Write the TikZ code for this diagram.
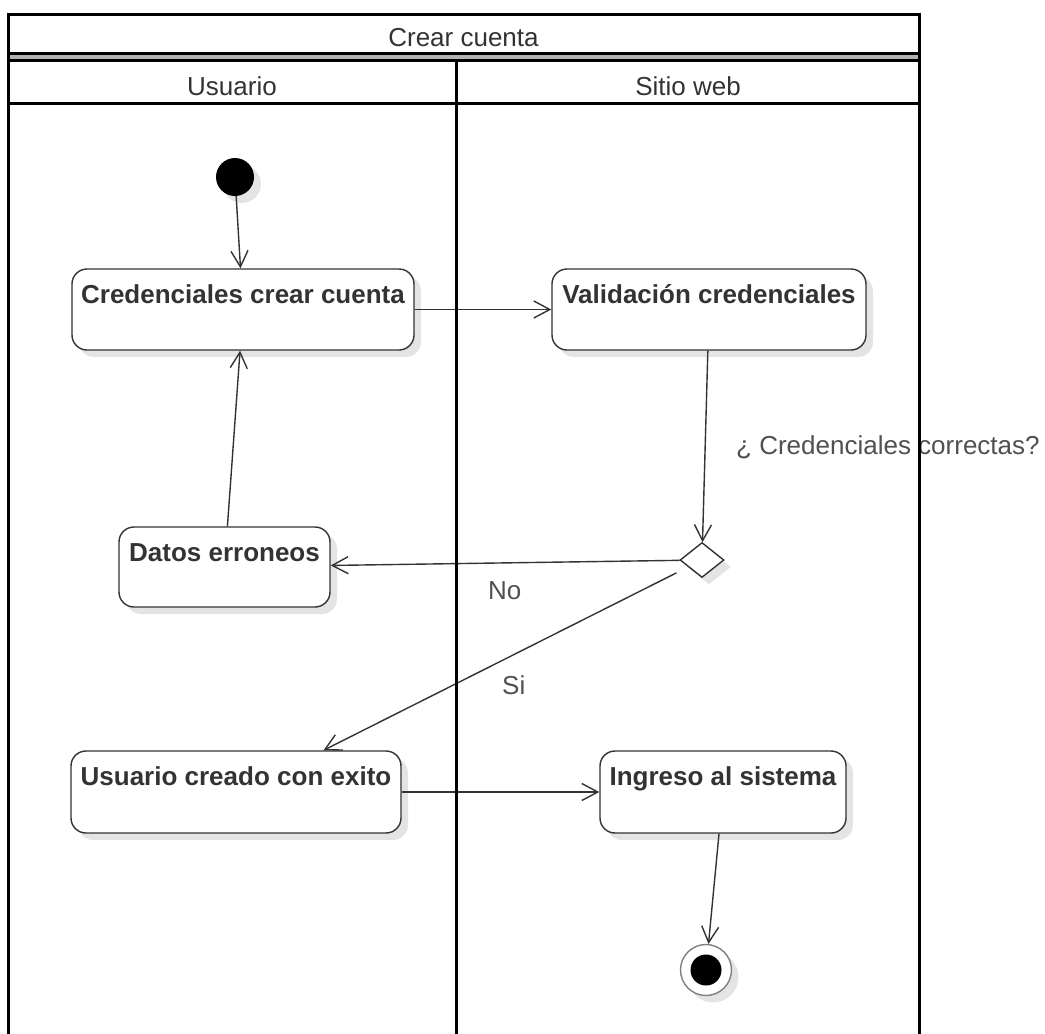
\documentclass[tikz,border=0pt]{standalone}
\usepackage{fontspec}
\setmainfont{Liberation Sans}
\usetikzlibrary{arrows.meta,shapes.geometric,shadows,calc}
\definecolor{ink}{HTML}{333333}
\definecolor{soft}{HTML}{505050}
\definecolor{shade}{HTML}{E4E4E4}
\definecolor{ring}{HTML}{808080}

\begin{document}
\begin{tikzpicture}[x=1pt,y=-1pt,
  every node/.style={font=\fontsize{26}{30}\selectfont},
  softshadow/.style={general shadow={fill=shade, shadow xshift=7pt, shadow yshift=-7pt}},
  act/.style={draw=ink, line width=1.4pt, rounded corners=15pt, fill=white,
    inner sep=0pt, softshadow},
  acttext/.style={font=\fontsize{26}{30}\selectfont\bfseries, text=ink,
    anchor=base, inner sep=0pt, yshift=-35pt},
  flow/.style={draw=ink, line width=1.4pt,
    -{Straight Barb[length=16pt,width=17pt,line width=1.4pt]}},
  tag/.style={text=soft, anchor=base west, inner sep=0pt},
  head/.style={text=ink, anchor=base, inner sep=0pt},
  lane/.style={line width=3pt, black},
]
\useasboundingbox (0,0) rectangle (1045,1034);

% start and end markers
\node[circle, fill=black, minimum size=38pt, inner sep=0pt, softshadow] (init) at (235,177) {};
\node[circle, draw=ring, line width=1.4pt, fill=white, minimum size=51pt, inner sep=0pt, softshadow] (fin) at (706,970) {};
\node[circle, fill=black, minimum size=31pt, inner sep=0pt] (finin) at (fin) {};

% activities
\node[act, minimum width=342pt, minimum height=81pt,
  label={[acttext]north:Credenciales crear cuenta}] (cred) at (243,309.5) {};
\node[act, minimum width=314pt, minimum height=81pt,
  label={[acttext]north:Validación credenciales}] (val) at (709,309.5) {};
\node[act, minimum width=211pt, minimum height=80pt,
  label={[acttext]north:Datos erroneos}] (datos) at (224.5,567) {};
\node[act, minimum width=330pt, minimum height=82pt,
  label={[acttext]north:Usuario creado con exito}] (usr) at (236,792) {};
\node[act, minimum width=246pt, minimum height=82pt,
  label={[acttext]north:Ingreso al sistema}] (ing) at (723,792) {};

% decision
\node[diamond, draw=ink, fill=white, line width=1.4pt, minimum width=44pt,
  minimum height=35pt, inner sep=0pt, softshadow] (dec) at (702,560) {};

% flows
\draw[flow] (init) -- (cred);
\draw[flow] (cred) -- (val);
\draw[flow] (val) -- (dec);
\draw[flow] (dec) -- (datos);
\draw[flow] (datos) -- (cred);
\draw[flow, shorten <=13pt] (dec) -- ($(usr.north west)!0.764!(usr.north east)$);
\draw[flow] (usr) -- (ing);
\draw[flow] (ing) -- (fin);

% guards
\node[tag] (guardq) at (736,454) {¿ Credenciales correctas?};
\node[tag] (guardno) at (488,599) {No};
\node[tag] (guardsi) at (502,694) {Si};

% partition frame
\fill[gray!60] (8,53.5) rectangle (919,60.5);
\draw[lane] (8,1034) -- (8,14) -- (919,14) -- (919,1034);
\draw[lane] (8,53.5) -- (919,53.5);
\draw[lane] (8,60.5) -- (919,60.5);
\draw[lane] (8,103) -- (919,103);
\draw[lane] (456,60.5) -- (456,1034);

\node[head] (title) at (463.5,46) {Crear cuenta};
\node[head] (laneA) at (232,95) {Usuario};
\node[head] (laneB) at (688,95) {Sitio web};
\end{tikzpicture}
\end{document}
